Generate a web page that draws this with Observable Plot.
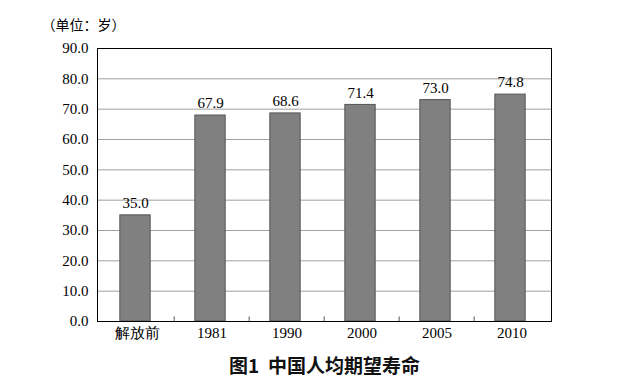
<!DOCTYPE html>
<html>
<head>
<meta charset="utf-8">
<script src="https://cdn.jsdelivr.net/npm/d3@7"></script>
<script src="https://cdn.jsdelivr.net/npm/@observablehq/plot@0.6"></script>
<style>
body { margin: 0; background: #fff; }
</style>
</head>
<body>
<div id="chart"></div>
<script>
const categories = ["解放前", "1981", "1990", "2000", "2005", "2010"];
const values = [35.0, 67.9, 68.6, 71.4, 73.0, 74.8];
const yTicks = [0, 10, 20, 30, 40, 50, 60, 70, 80, 90];
const titleText = "（单位：岁）";
const captionText = "图1  中国人均期望寿命";

const data = categories.map((c, i) => ({category: c, value: values[i]}));

const W = 635, H = 388;
const mL = 97, mR = 84, mT = 48, mB = 67;
const bw = (W - mL - mR) / categories.length;
const barW = 31;
const inset = (bw - barW) / 2;
const serif = "'Liberation Serif', 'Times New Roman', serif";

const chart = Plot.plot({
  width: W,
  height: H,
  marginLeft: mL,
  marginRight: mR,
  marginTop: mT,
  marginBottom: mB,
  style: {fontFamily: serif, fontSize: "15px", color: "#000", background: "#fff"},
  x: {domain: categories, padding: 0, label: null},
  y: {domain: [0, 90], label: null},
  marks: [
    Plot.ruleY(yTicks.slice(1, -1), {stroke: "#a0a0a0", strokeWidth: 1}),
    Plot.barY(data, {x: "category", y: "value", fill: "#808080", stroke: "#555", strokeWidth: 1, insetLeft: inset - 1.5, insetRight: inset + 1.5}),
    Plot.text(data, {x: "category", y: "value", text: d => d.value.toFixed(1), dx: -1.5, dy: -12, fontSize: 15, fill: "#000", fontFamily: serif}),
    Plot.ruleX(categories.slice(1), {x: d => d, y1: 0, y2: 1.5, dx: -bw / 2, stroke: "#555"}),
    Plot.frame({stroke: "#000", strokeWidth: 1}),
    Plot.axisY({ticks: yTicks, tickFormat: d => d.toFixed(1), tickSize: 0, tickPadding: 9, fontSize: 15, label: null}),
    Plot.axisX({tickSize: 0, tickPadding: 6, fontSize: 15, label: null}),
    Plot.text([titleText], {frameAnchor: "top-left", text: d => d, dx: -56, dy: -28, textAnchor: "start", fontFamily: "'Noto Sans CJK SC', sans-serif", fontSize: 14, fill: "#000"}),
    Plot.text([captionText], {frameAnchor: "bottom", text: d => d, dx: 0, dy: 51, fontFamily: "'Noto Sans CJK SC', sans-serif", fontWeight: "bold", fontSize: 19, fill: "#111"})
  ]
});
document.getElementById("chart").appendChild(chart);
</script>
</body>
</html>
